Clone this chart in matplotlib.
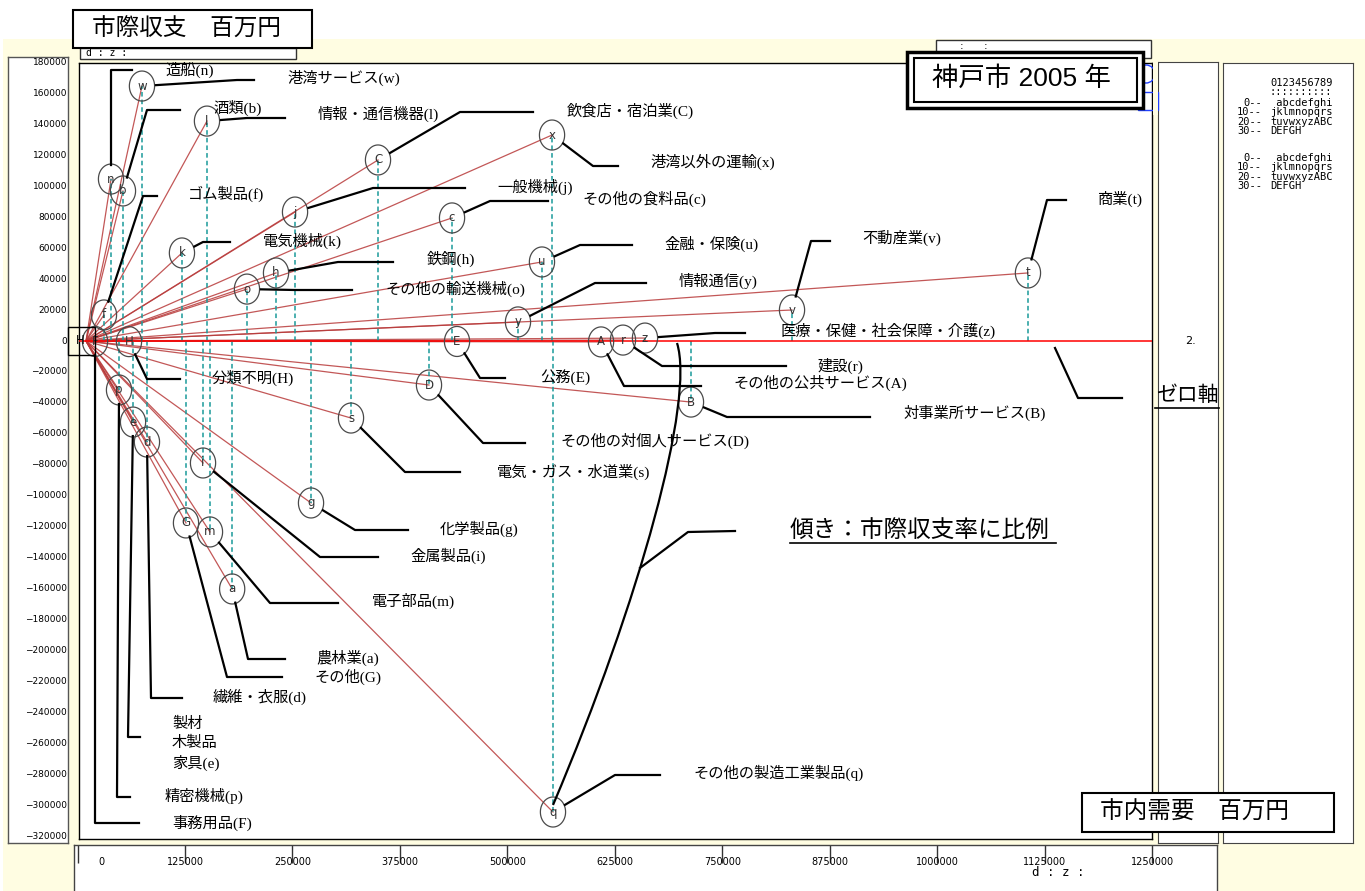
import numpy as np
import matplotlib
matplotlib.use("Agg")
import matplotlib.pyplot as plt
from matplotlib.patches import Rectangle, Ellipse, PathPatch
from matplotlib.path import Path
from matplotlib.lines import Line2D
import matplotlib.transforms as mtrans

# ---------------- data ----------------
codes = ['a', 'b', 'c', 'd', 'e', 'f', 'g', 'h', 'i', 'j', 'k', 'l', 'm', 'n', 'o',
         'p', 'q', 'r', 's', 't', 'u', 'v', 'w', 'x', 'y', 'z', 'A', 'B', 'C', 'D',
         'E', 'F', 'G', 'H']
names = ['農林業(a)', '酒類(b)', 'その他の食料品(c)', '繊維・衣服(d)', '製材\n木製品\n家具(e)',
         'ゴム製品(f)', '化学製品(g)', '鉄鋼(h)', '金属製品(i)', '一般機械(j)', '電気機械(k)',
         '情報・通信機器(l)', '電子部品(m)', '造船(n)', 'その他の輸送機械(o)', '精密機械(p)',
         'その他の製造工業製品(q)', '建設(r)', '電気・ガス・水道業(s)', '商業(t)', '金融・保険(u)',
         '不動産業(v)', '港湾サービス(w)', '港湾以外の運輸(x)', '情報通信(y)',
         '医療・保健・社会保障・介護(z)', 'その他の公共サービス(A)', '対事業所サービス(B)',
         '飲食店・宿泊業(C)', 'その他の対個人サービス(D)', '公務(E)', '事務用品(F)', 'その他(G)',
         '分類不明(H)']
demand = [170000, 43000, 425700, 70900, 54700, 20900, 261700, 221000, 136100, 243100,
          111600, 140700, 144200, 29100, 187200, 38400, 543100, 624500, 308200, 1095500,
          530300, 821100, 65100, 542000, 502400, 650100, 599000, 703600, 339600, 398900,
          431500, 10500, 116300, 50000]
balance = [-160000, 96800, 79400, -65200, -52300, 16800, -104500, 43900, -78700, 83200,
           56800, 141900, -123200, 104500, 33500, -31600, -303900, 600, -49700, 43900,
           51000, 20000, 164500, 132900, 12300, 1900, -600, -39400, 116800, -28400,
           -300, -300, -117400, -400]

y_ticks = list(range(-320000, 180001, 20000))
x_ticks = list(range(0, 1250001, 125000))

# ---------------- label layout (reference pixel coords: elbow, end, label) ----------------
layout = {
    'n': ((111, 70), (132, 70), (165, 70)),
    'w': ((237, 80), (254, 80), (287, 78)),
    'b': ((147, 110), (180, 110), (213, 108)),
    'l': ((247, 118), (285, 118), (318, 114)),
    'C': ((460, 112), (533, 112), (567, 111)),
    'x': ((593, 166), (618, 166), (650, 162)),
    'j': ((373, 188), (465, 188), (497, 187)),
    'c': ((490, 201), (548, 201), (582, 199)),
    'f': ((143, 196), (157, 196), (188, 194)),
    'k': ((203, 242), (230, 242), (263, 241)),
    'h': ((338, 262), (393, 262), (427, 259)),
    'o': ((295, 290), (352, 290), (385, 289)),
    'u': ((580, 245), (632, 245), (664, 244)),
    'y': ((595, 283), (646, 283), (679, 281)),
    'v': ((811, 241), (830, 241), (862, 238)),
    't': ((1047, 200), (1066, 200), (1098, 199)),
    'z': ((715, 333), (745, 333), (780, 331)),
    'r': ((662, 366), (786, 366), (818, 366)),
    'A': ((624, 386), (701, 386), (733, 383)),
    'B': ((727, 417), (870, 417), (903, 413)),
    'E': ((480, 378), (505, 378), (540, 377)),
    'D': ((483, 443), (525, 443), (560, 441)),
    's': ((405, 472), (460, 472), (497, 472)),
    'g': ((355, 530), (408, 530), (440, 529)),
    'i': ((320, 557), (378, 557), (410, 556)),
    'm': ((270, 603), (338, 603), (372, 601)),
    'a': ((248, 659), (285, 659), (316, 658)),
    'G': ((227, 677), (282, 677), (314, 677)),
    'd': ((151, 698), (182, 698), (213, 697)),
    'e': ((128, 737), (140, 737), (172, 744)),
    'p': ((117, 797), (130, 797), (165, 796)),
    'F': ((95, 823), (139, 823), (172, 823)),
    'H': ((147, 379), (180, 379), (212, 378)),
    'q': ((615, 775), (660, 775), (693, 773)),
}

W, H = 1365, 891
fig = plt.figure(figsize=(W / 100, H / 100), dpi=100)
fig.patch.set_facecolor('white')

JP = ['Noto Sans CJK JP', 'DejaVu Sans']
JPL = ['Liberation Serif', 'Noto Sans CJK JP', 'DejaVu Sans']
JPS = ['Liberation Sans', 'Noto Sans CJK JP', 'DejaVu Sans']


def frect(x0, y0, x1, y1, **kw):
    r = Rectangle((x0 / W, 1 - y1 / H), (x1 - x0) / W, (y1 - y0) / H,
                  transform=fig.transFigure, **kw)
    fig.add_artist(r)
    return r


def ftext(x, y, s, **kw):
    return fig.text(x / W, 1 - y / H, s, **kw)


def fline(xs, ys, **kw):
    fig.add_artist(Line2D([x / W for x in xs], [1 - y / H for y in ys],
                          transform=fig.transFigure, **kw))


def add_ax(x0, y0, x1, y1):
    return fig.add_axes([x0 / W, 1 - y1 / H, (x1 - x0) / W, (y1 - y0) / H])


# background
frect(3, 39, W + 5, H + 5, facecolor='#FFFDE2', edgecolor='none', zorder=-5)

S_X = 1163.0   # units per px (x)
S_Y = 645.2    # units per px (y)

# left axis box (y tick labels)
axl = add_ax(8, 57, 68, 843)
axl.set_ylim(-(843 - 341) * S_Y, (341 - 57) * S_Y)
axl.set_xlim(0, 1)
axl.set_xticks([]); axl.set_yticks([])
for sp in axl.spines.values():
    sp.set_color('#555555'); sp.set_linewidth(1)
bt = mtrans.blended_transform_factory(axl.transAxes, axl.transData)
for v in y_ticks:
    axl.text(0.985, v, f"{v}".replace('-', '−'), transform=bt, ha='right', va='center',
             fontsize=6.5, family='DejaVu Sans', color='black')

# main plot
ax = add_ax(79, 63, 1152, 839)
ax.set_xlim(-(86 - 79) * S_X, (1152 - 86) * S_X)
ax.set_ylim(-(839 - 341) * S_Y, (341 - 63) * S_Y)
ax.set_xticks([]); ax.set_yticks([])
for sp in ax.spines.values():
    sp.set_color('black'); sp.set_linewidth(1)

for xv, yv in zip(demand, balance):
    ax.plot([0, xv], [0, yv], color='#B83A3A', lw=0.9, alpha=0.85, zorder=2)
ax.vlines(demand, 0, balance, colors='#1A9A9A', linestyles=(0, (3, 2)), lw=1.1, zorder=2.5)
ax.axhline(0, color='#FF0000', lw=1.1, zorder=3)

t = np.linspace(0, 2 * np.pi, 80)
ell = np.c_[np.cos(t) * 0.84, np.sin(t)]
ax.scatter(demand, balance, s=(30 * 0.72) ** 2, marker=ell, facecolors='none',
           edgecolors='#4A4A4A', linewidths=0.9, zorder=4)
for c, xv, yv in zip(codes, demand, balance):
    ax.text(xv, yv, c, ha='center', va='center', fontsize=8.5, color='#333333',
            family='DejaVu Sans', zorder=5)

# leaders + labels
fig.canvas.draw()
for c, nm, xv, yv in zip(codes, names, demand, balance):
    (ex, ey), (qx, qy), (lx, ly) = layout[c]
    dx, dy = ax.transData.transform((xv, yv))
    px, py = dx, H - dy
    vx, vy = ex - px, ey - py
    n = np.hypot(vx, vy)
    sx, sy = px + vx / n * 14, py + vy / n * 14
    fline([sx, ex, qx], [sy, ey, qy], color='black', lw=1.6, zorder=6)
    ftext(lx, ly, nm, fontsize=11, family=JPL, ha='left', va='center',
          linespacing=1.4, zorder=6)

# H box at the origin
frect(68, 327, 95, 355, facecolor='none', edgecolor='black', lw=1, zorder=6)
ftext(80, 341, 'H', fontsize=8.5, ha='center', va='center', family='DejaVu Sans', zorder=6)

# bottom axis box
axb = add_ax(74, 845, 1217, 900)
axb.set_xlim(-(77.5 - 74) * S_X, (1217 - 77.5) * S_X)
axb.set_ylim(0, 1)
axb.set_yticks([])
axb.set_xticks(x_ticks)
axb.tick_params(axis='x', direction='in', top=True, bottom=False, length=13,
                labelbottom=False, width=1, color='#333333')
for sp in axb.spines.values():
    sp.set_color('#444444'); sp.set_linewidth(1)
btb = mtrans.blended_transform_factory(axb.transData, axb.transAxes)
for v in x_ticks:
    off = 24 * S_X if v == 0 else 0
    axb.text(v + off, 1 - 17 / 55, str(v), transform=btb, ha='center', va='center',
             fontsize=7, family='DejaVu Sans')
ftext(1058, 873, 'd : z :', fontsize=9, family='DejaVu Sans Mono', ha='center', va='center')

# right panels
axr = add_ax(1158, 62, 1218, 843)
axr.set_xticks([]); axr.set_yticks([])
for sp in axr.spines.values():
    sp.set_color('#444444')
axf = add_ax(1223, 63, 1353, 843)
axf.set_xticks([]); axf.set_yticks([])
for sp in axf.spines.values():
    sp.set_color('#444444')

mono = dict(fontsize=7.5, family='DejaVu Sans Mono', va='center', zorder=6)
ftext(1270, 83, '0123456789', ha='left', **mono)
ftext(1270, 92, '::::::::::', ha='left', **mono)
rows = [('0--', ' abcdefghi'), ('10--', 'jklmnopqrs'), ('20--', 'tuvwxyzABC'), ('30--', 'DEFGH')]
for block_y in (103, 158):
    for k, (pre, body) in enumerate(rows):
        yy = block_y + k * 9.3
        ftext(1262, yy, pre, ha='right', **mono)
        ftext(1270, yy, body, ha='left', **mono)

ftext(1190, 341, '2.', fontsize=8, family='DejaVu Sans', ha='center', va='center', zorder=6)

# zero axis annotation
fline([1055, 1078, 1122], [348, 398, 398], color='black', lw=1.6, zorder=6)
ftext(1187, 395, 'ゼロ軸', fontsize=15, family=JP, ha='center', va='center', zorder=7)
fline([1155, 1219], [408, 408], color='black', lw=1.2, zorder=7)

# slope annotation
ftext(790, 530, '傾き：市際収支率に比例', fontsize=17, family=JP, ha='left', va='center', zorder=7)
fline([790, 1056], [543, 543], color='black', lw=1.2, zorder=7)
fline([735, 688, 640], [531, 532, 568], color='black', lw=1.6, zorder=6)
verts = [(677, 343), (695, 400), (640, 600), (553, 805)]
pverts = [(x / W, 1 - y / H) for x, y in verts]
fig.add_artist(PathPatch(Path(pverts, [Path.MOVETO, Path.CURVE4, Path.CURVE4, Path.CURVE4]),
                         transform=fig.transFigure, facecolor='none', edgecolor='black',
                         lw=1.6, zorder=6))

# blue partial shapes near top right of plot
fig.add_artist(Ellipse((1146 / W, 1 - 74 / H), 18 / W, 18 / H, transform=fig.transFigure,
                       facecolor='none', edgecolor='#2040FF', lw=1, zorder=4))
frect(1138, 92, 1158, 110, facecolor='none', edgecolor='#2040FF', lw=1, zorder=4)
frect(1152.5, 60, 1157.5, 115, facecolor='#FFFDE2', edgecolor='none', zorder=4.5)

# top small box and title boxes
frect(936, 40, 1151, 58, facecolor='white', edgecolor='#333333', lw=1, zorder=7)
ftext(962, 46, ':', fontsize=8, ha='center', va='center', zorder=7)
ftext(986, 46, ':', fontsize=8, ha='center', va='center', zorder=7)

frect(907, 52, 1143, 108, facecolor='white', edgecolor='black', lw=2.5, zorder=8)
frect(914, 58, 1137, 102, facecolor='none', edgecolor='black', lw=1.5, zorder=8)
ftext(1021, 79, '神戸市 2005 年', fontsize=19, family=JPS, ha='center', va='center', zorder=9)

frect(80, 48, 296, 59, facecolor='white', edgecolor='#333333', lw=1, zorder=7)
ftext(86, 53, 'd : z :', fontsize=7, family='DejaVu Sans Mono', ha='left', va='center', zorder=7)
frect(73, 10, 312, 48, facecolor='white', edgecolor='black', lw=1.5, zorder=8)
ftext(92, 29, '市際収支　百万円', fontsize=17, family=JP, ha='left', va='center', zorder=9)

frect(1082, 793, 1334, 832, facecolor='white', edgecolor='black', lw=1.5, zorder=8)
ftext(1100, 812, '市内需要　百万円', fontsize=17, family=JP, ha='left', va='center', zorder=9)

fig.savefig('out.png', dpi=100)
